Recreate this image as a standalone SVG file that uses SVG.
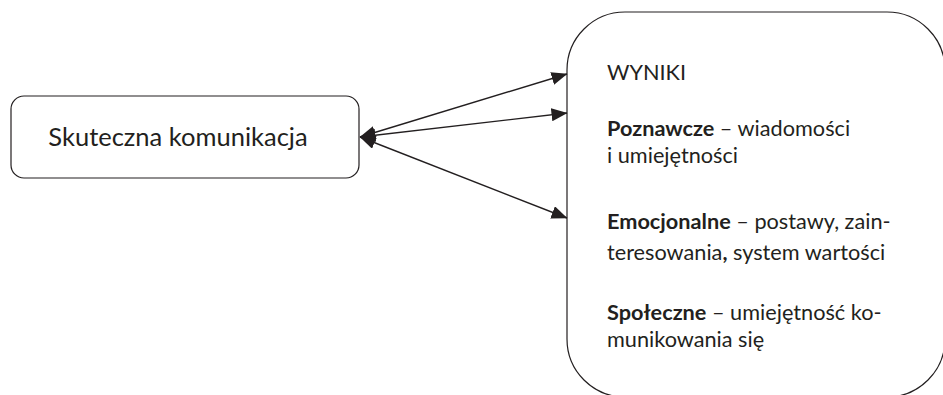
<svg xmlns="http://www.w3.org/2000/svg" width="943" height="395" viewBox="0 0 943 395">
<style>
.box{fill:#fff;stroke:#231f20;stroke-width:1.2}
.t{font-family:Lato,"Open Sans","Liberation Sans",sans-serif;fill:#231f20}
.r{font-size:21.7px}
.b{font-weight:bold}
.c{stroke:#231f20;stroke-width:1.4;fill:none}
</style>
<defs>
<marker id="ah" viewBox="0 0 16 13" refX="15.5" refY="6.5" markerWidth="16" markerHeight="13" markerUnits="userSpaceOnUse" orient="auto-start-reverse">
<path d="M0,0 L16,6.5 L0,13 Z" fill="#231f20"/>
</marker>
</defs>
<g id="node-left">
<rect class="box" x="11" y="96" width="348" height="82" rx="13"/>
<text class="t" x="178" y="146" font-size="25.5" text-anchor="middle">Skuteczna komunikacja</text>
</g>
<g id="node-right">
<rect class="box" x="567" y="12" width="378" height="385" rx="58"/>
<text class="t r" x="607" y="80">WYNIKI</text>
<text class="t r" x="607" y="136"><tspan class="b">Poznawcze</tspan> – wiadomości</text>
<text class="t r" x="607" y="163">i umiejętności</text>
<text class="t r" x="607" y="229"><tspan class="b">Emocjonalne</tspan> – postawy, zain-</text>
<text class="t r" x="607" y="260">teresowania<tspan class="b">,</tspan> system wartości</text>
<text class="t r" x="607" y="320"><tspan class="b">Społeczne</tspan> – umiejętność ko-</text>
<text class="t r" x="607" y="347">munikowania się</text>
</g>
<g id="connectors">
<line class="c" x1="360" y1="137" x2="567" y2="74" marker-start="url(#ah)" marker-end="url(#ah)"/>
<line class="c" x1="360" y1="137" x2="567" y2="113" marker-start="url(#ah)" marker-end="url(#ah)"/>
<line class="c" x1="360" y1="137" x2="567" y2="218" marker-start="url(#ah)" marker-end="url(#ah)"/>
</g>
</svg>
